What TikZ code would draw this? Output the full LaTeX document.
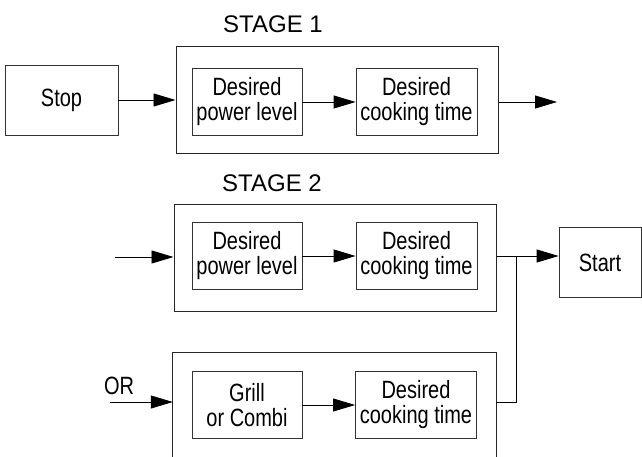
\documentclass[tikz,border=0pt]{standalone}
\usepackage{fontspec}
\setmainfont{Liberation Sans}
\newfontfamily\boxfont{Liberation Sans}[FakeStretch=0.8]
\usetikzlibrary{arrows.meta}

\begin{document}
\begin{tikzpicture}[
x=1pt,y=-1pt,
font=\boxfont\fontsize{25}{25}\selectfont,
stageline/.style={draw=black!85,line width=1pt},
stage/.style={rectangle,stageline,minimum width=322pt,minimum height=107pt},
setting/.style={rectangle,draw=black!80,line width=0.8pt,inner sep=1pt,align=center,minimum width=110pt,minimum height=67pt},
button/.style={rectangle,draw=black!80,line width=0.8pt,minimum height=70pt},
title/.style={font=\rmfamily\fontsize{24}{26}\selectfont},
flow/.style={-{Triangle[length=22pt,width=13pt]},line width=0.8pt}
]

\useasboundingbox (0,0) rectangle (642,457);

% Draw buttons
\node [button,minimum width=113pt] (stop) at (61.5,100) {Stop};
\node [button,minimum width=82pt] (start) at (600,262.5) {Start};

% Draw stage titles
\node [title] (title1) at (273,24) {STAGE 1};
\node [title] (title2) at (272,183) {STAGE 2};

% Draw stage boxes
\node [stage] (stage1) at (337,100.5) {};
\node [stage] (stage2) at (335,258) {};
\node [rectangle,minimum width=323pt,minimum height=114pt] (stage3) at (334.5,410) {};
\draw [stageline] (stage3.south west) |- (stage3.north east) -- (stage3.south east);

% Draw settings inside the stages
\node [setting] (power1) at (247,102) {Desired\\power level};
\node [setting,minimum width=121pt] (time1) at (416.5,102) {Desired\\cooking time};
\node [setting] (power2) at (247,256) {Desired\\power level};
\node [setting,minimum width=121pt] (time2) at (416.5,256) {Desired\\cooking time};
\node [setting] (grill) at (247,405) {Grill\\or Combi};
\node [setting,minimum width=121pt] (time3) at (416,405) {Desired\\cooking time};

\foreach \a/\b in {power1/time1,power2/time2,grill/time3}{
  \draw [flow] (\a.east) -- (\b.west);
}

% Draw connectors between stages
\coordinate (s1out) at (557,102);
\coordinate (s2in) at (115,257);
\coordinate (orin) at (110,402);
\coordinate (join) at (516,256);

\draw [flow] (stop.east) -- (stop.east -| stage1.west);
\draw [flow] (stage1.east |- s1out) -- (s1out);
\draw [flow] (s2in) -- (s2in -| stage2.west);
\draw [flow] (orin) -- (orin -| stage3.west);
\node (orlabel) at (119,386) {OR};
\draw [flow] (stage2.east |- join) -- (start.west |- join);
\draw [line width=0.8pt] (stage3.east |- orin) -| (join);

\end{tikzpicture}
\end{document}
